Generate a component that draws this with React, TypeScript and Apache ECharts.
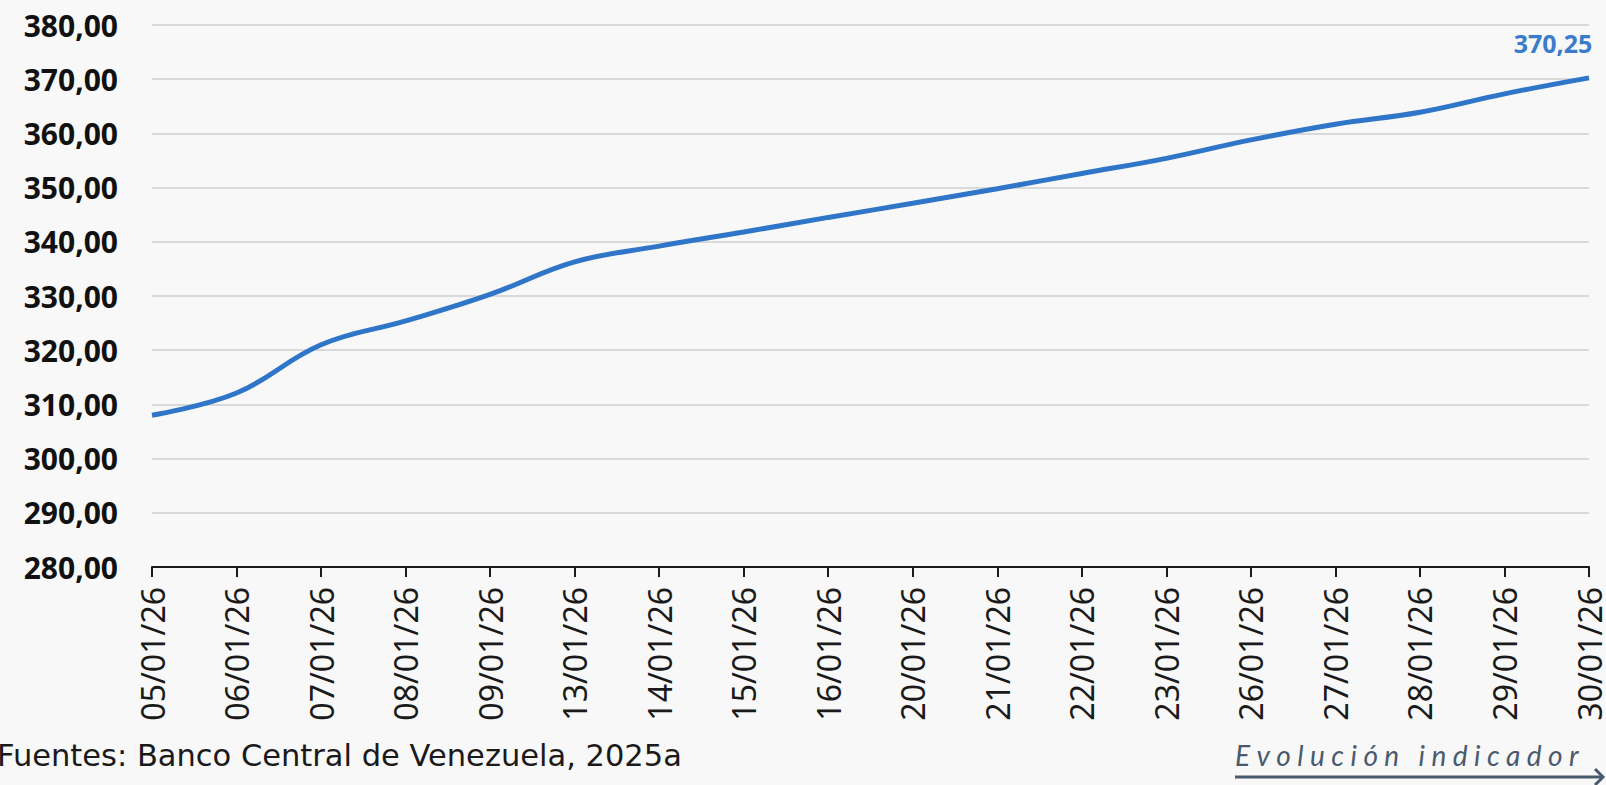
import React, { useEffect, useRef } from "react";
import * as echarts from "echarts";

const categories = [
  "05/01/26", "06/01/26", "07/01/26", "08/01/26", "09/01/26", "13/01/26",
  "14/01/26", "15/01/26", "16/01/26", "20/01/26", "21/01/26", "22/01/26",
  "23/01/26", "26/01/26", "27/01/26", "28/01/26", "29/01/26", "30/01/26",
];
const values = [
  308.0, 312.1, 321.0, 325.4, 330.3, 336.3, 339.2, 341.8, 344.5, 347.1,
  349.8, 352.6, 355.4, 358.8, 361.7, 363.9, 367.3, 370.25,
];
const yMin = 280;
const yMax = 380;
const yStep = 10;
const sourceText = "Fuentes: Banco Central de Venezuela, 2025a";
const footerText = "Evolución indicador";

const fmt = (v: number) => v.toFixed(2).replace(".", ",");
const spaced = (s: string) => s.split("").join("\u2009\u200A\u200A");

export default function App() {
  const ref = useRef<HTMLDivElement>(null);
  useEffect(() => {
    if (!ref.current) return;
    const chart = echarts.init(ref.current, null, { renderer: "svg" });
    const last = values.length - 1;
    chart.setOption({
      animation: false,
      backgroundColor: "#f8f8f8",
      grid: { left: 152, right: 17, top: 25, bottom: 218, containLabel: false },
      xAxis: {
        type: "category",
        data: categories,
        boundaryGap: false,
        axisLine: { lineStyle: { color: "#1a1a1a", width: 2 } },
        axisTick: { show: true, length: 10, lineStyle: { color: "#1a1a1a", width: 2 } },
        axisLabel: {
          rotate: 90,
          interval: 0,
          margin: 20,
          color: "#1a1a1a",
          fontFamily: "Noto Sans",
          fontSize: 32,
        },
      },
      yAxis: {
        type: "value",
        min: yMin,
        max: yMax,
        interval: yStep,
        axisLine: { show: false },
        axisTick: { show: false },
        splitLine: { lineStyle: { color: "#cfcfcf", width: 1.5 } },
        axisLabel: {
          margin: 34,
          color: "#111",
          fontFamily: "Open Sans",
          fontWeight: "bold",
          fontSize: 30,
          formatter: (v: number) => fmt(v),
        },
      },
      series: [
        {
          type: "line",
          smooth: 0.4,
          showSymbol: true,
          symbol: "circle",
          symbolSize: 0,
          lineStyle: { color: "#2f76c9", width: 5 },
          itemStyle: { color: "#2f76c9" },
          data: values.map((v, i) =>
            i === last
              ? {
                  value: v,
                  label: {
                    show: true,
                    position: "top",
                    offset: [-36, -17],
                    formatter: fmt(v),
                    color: "#3a7ccb",
                    fontFamily: "Open Sans",
                    fontWeight: "bold",
                    fontSize: 25,
                  },
                }
              : v
          ),
        },
      ],
      graphic: [
        {
          type: "text",
          left: -3,
          top: 740,
          style: {
            text: sourceText,
            fill: "#1a1a1a",
            font: "30.5px 'DejaVu Sans'",
          },
        },
        {
          type: "text",
          left: 1235,
          top: 741,
          style: {
            text: spaced(footerText),
            fill: "#4a5a6e",
            font: "italic 28px Lato",
          },
        },
        {
          type: "line",
          shape: { x1: 1235, y1: 777, x2: 1603, y2: 777 },
          style: { stroke: "#4a5a6e", lineWidth: 3 },
        },
        {
          type: "polyline",
          shape: { points: [[1595, 769], [1603, 777], [1595, 785]] },
          style: { stroke: "#4a5a6e", lineWidth: 3, fill: "none" },
        },
      ],
    });
    return () => chart.dispose();
  }, []);
  return (
    <div
      ref={ref}
      style={{ position: "fixed", left: 0, top: 0, width: 1606, height: 785 }}
    />
  );
}
